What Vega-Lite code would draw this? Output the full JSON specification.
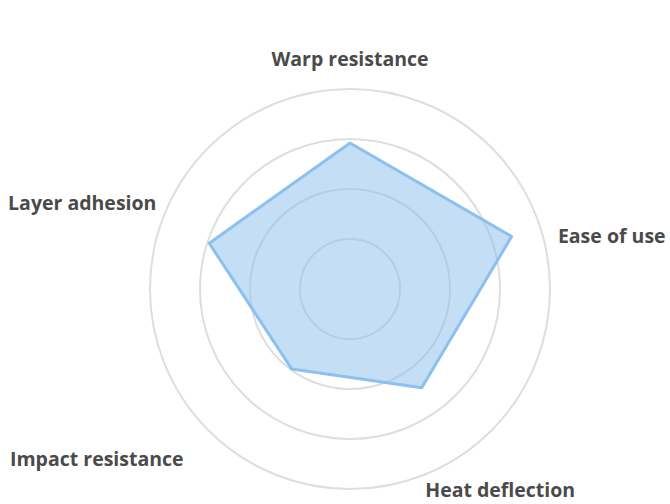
{
  "$schema": "https://vega.github.io/schema/vega-lite/v6.json",
  "width": 400,
  "height": 400,
  "autosize": "none",
  "padding": {"left": 150, "top": 89, "right": 120, "bottom": 15},
  "background": "white",
  "config": {"view": {"stroke": null}},
  "datasets": {
    "scores": [
      {"axis": "Warp resistance", "i": 0, "value": 2.92},
      {"axis": "Ease of use", "i": 1, "value": 3.4},
      {"axis": "Heat deflection", "i": 2, "value": 2.44},
      {"axis": "Impact resistance", "i": 3, "value": 1.98},
      {"axis": "Layer adhesion", "i": 4, "value": 2.96}
    ],
    "rings": [{"ring": 1}, {"ring": 2}, {"ring": 3}, {"ring": 4}]
  },
  "layer": [
    {
      "data": {"name": "rings"},
      "mark": {"type": "arc", "theta": 0, "theta2": 6.2832, "filled": false, "stroke": "#dedede", "strokeWidth": 2},
      "encoding": {
        "radius": {"field": "ring", "type": "quantitative", "stack": null, "scale": {"type": "linear", "domain": [0, 4], "range": [0, 200], "zero": true}, "legend": null}
      }
    },
    {
      "data": {"name": "scores"},
      "transform": [
        {"calculate": "PI/2 - datum.i*2*PI/5", "as": "ang"},
        {"calculate": "datum.value*cos(datum.ang)", "as": "px"},
        {"calculate": "datum.value*sin(datum.ang)", "as": "py"}
      ],
      "mark": {"type": "line", "interpolate": "linear-closed", "fill": "#87bdeb", "fillOpacity": 0.5, "stroke": "#8cc0ee", "strokeWidth": 3, "strokeJoin": "round"},
      "encoding": {
        "x": {"field": "px", "type": "quantitative", "scale": {"domain": [-4, 4]}, "axis": null},
        "y": {"field": "py", "type": "quantitative", "scale": {"domain": [-4, 4]}, "axis": null},
        "order": {"field": "i"}
      }
    },
    {
      "data": {"name": "scores"},
      "transform": [
        {"calculate": "PI/2 - datum.i*2*PI/5", "as": "ang"},
        {"calculate": "4.6*cos(datum.ang)", "as": "lx"},
        {"calculate": "4.6*sin(datum.ang)", "as": "ly"}
      ],
      "mark": {
        "type": "text",
        "font": "Open Sans",
        "fontWeight": "bold",
        "fontSize": 19.5,
        "color": "#4a4a4a",
        "baseline": "middle",
        "align": "center",
        "dx": {"expr": "[0, 43, 15, -118, -49][datum.i]"},
        "dy": {"expr": "[1, 19, 16, -15, -14][datum.i]"}
      },
      "encoding": {
        "x": {"field": "lx", "type": "quantitative", "scale": {"domain": [-4, 4]}, "axis": null},
        "y": {"field": "ly", "type": "quantitative", "scale": {"domain": [-4, 4]}, "axis": null},
        "text": {"field": "axis"}
      }
    }
  ]
}
